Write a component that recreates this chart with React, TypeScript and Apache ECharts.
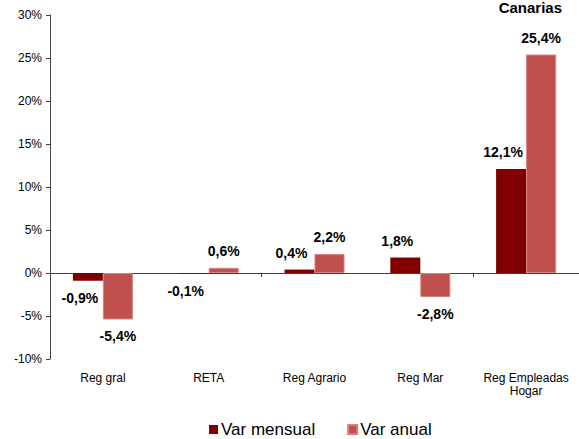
import React, { useEffect, useRef } from "react";
import * as echarts from "echarts";

const categories = ["Reg gral", "RETA", "Reg Agrario", "Reg Mar", "Reg Empleadas\nHogar"];
const varMensual = [-0.9, -0.1, 0.4, 1.8, 12.1];
const varAnual = [-5.4, 0.6, 2.2, -2.8, 25.4];
const seriesNames = ["Var mensual", "Var anual"];
const titleText = "Canarias";

const FONT = "'Liberation Sans', Arial, sans-serif";

const fmt = (v: number) => v.toFixed(1).replace(".", ",") + "%";

export default function App() {
  const ref = useRef<HTMLDivElement>(null);
  useEffect(() => {
    if (!ref.current) return;
    const chart = echarts.init(ref.current, null, { renderer: "svg" });
    const mkData = (vals: number[], dx: number) =>
      vals.map((v) => ({
        value: v,
        label: { position: v >= 0 ? "top" : "bottom", offset: [dx, 0] },
      }));
    const labelBase = {
      show: true,
      distance: 10,
      fontFamily: FONT,
      fontSize: 14,
      fontWeight: "bold",
      color: "#000",
      formatter: (p: any) => fmt(p.value),
    };
    chart.setOption({
      animation: false,
      backgroundColor: "#fff",
      textStyle: { fontFamily: FONT },
      title: {
        text: titleText,
        right: 12,
        top: -5,
        textStyle: { fontFamily: FONT, fontSize: 15, fontWeight: "bold", color: "#000" },
      },
      legend: {
        top: 416,
        left: 204,
        itemWidth: 9,
        itemHeight: 9,
        itemGap: 32,
        icon: "rect",
        textStyle: { fontFamily: FONT, fontSize: 17, color: "#000", padding: [0, 0, 0, -2] },
        data: seriesNames,
      },
      grid: { left: 50, right: 0, top: 15, bottom: 80, containLabel: false },
      xAxis: [
        {
          type: "category",
          data: categories,
          axisLine: { onZero: true, lineStyle: { color: "#404040", width: 1 } },
          axisTick: { show: true, length: 4, lineStyle: { color: "#404040" } },
          axisLabel: { show: false },
        },
        {
          type: "category",
          data: categories,
          position: "bottom",
          axisLine: { show: false, onZero: false },
          axisTick: { show: false },
          axisLabel: {
            show: true,
            margin: 12,
            fontFamily: FONT,
            fontSize: 12,
            color: "#000",
            lineHeight: 13,
            interval: 0,
          },
        },
      ],
      yAxis: {
        type: "value",
        min: -10,
        max: 30,
        interval: 5,
        axisLine: { show: true, lineStyle: { color: "#404040", width: 1 } },
        axisTick: { show: true, length: 4, lineStyle: { color: "#404040" } },
        splitLine: { show: false },
        axisLabel: {
          margin: 8,
          fontFamily: FONT,
          fontSize: 12,
          color: "#000",
          formatter: (v: number) => `${v}%`,
        },
      },
      series: [
        {
          name: seriesNames[0],
          type: "bar",
          xAxisIndex: 0,
          barWidth: 30,
          barGap: "0%",
          itemStyle: { color: "#800000" },
          label: labelBase,
          data: mkData(varMensual, -8),
        },
        {
          name: seriesNames[1],
          type: "bar",
          xAxisIndex: 0,
          barWidth: 30,
          barGap: "0%",
          itemStyle: { color: "#C0504D", borderColor: "#D6807C", borderWidth: 1 },
          label: labelBase,
          data: mkData(varAnual, 0),
        },
      ],
    });
    return () => chart.dispose();
  }, []);
  return <div ref={ref} style={{ width: 579, height: 439, position: "absolute", left: 0, top: 0 }} />;
}
